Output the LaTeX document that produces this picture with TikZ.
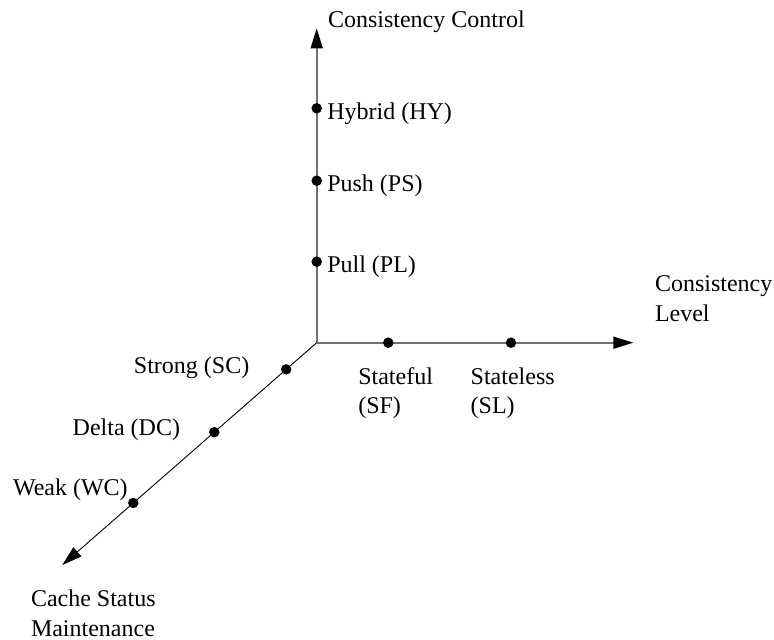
\documentclass[tikz,border=0pt]{standalone}
\usepackage{fontspec}
\setmainfont{Liberation Serif}
\usetikzlibrary{arrows.meta,calc}
\definecolor{axisgray}{HTML}{707070}
\begin{document}
\begin{tikzpicture}[x=1pt,y=-1pt,
  every node/.style={font=\fontsize{24}{29.3}\selectfont, inner sep=0pt, outer sep=0pt},
  axis/.style={draw=axisgray, line width=1.6pt, -{Triangle[length=20pt,width=12pt,fill=black,color=black]}},
  diagaxis/.style={draw=black, line width=0.9pt, -{Triangle[length=20pt,width=12pt]}},
  tick/.style={circle, fill=black, minimum size=10.5pt},
  lbl/.style={anchor=base west, align=left},
  rlbl/.style={anchor=base east, align=right}]
\useasboundingbox (0,0) rectangle (774,640);

% axes
\coordinate (O) at (316.7,342.7);
\coordinate (ctrlEnd) at (316.7,28.3);
\coordinate (levelEnd) at (633.3,342.7);
\coordinate (cacheEnd) at (62.3,565);

\draw[axis] (O) -- (ctrlEnd);
\draw[axis] (O) -- (levelEnd);
\draw[diagaxis] (O) -- (cacheEnd);

% axis titles (two-line nodes are placed by the baseline of their last line)
\node[lbl] (tCtrl) at (328,27.3) {Consistency Control};
\node[lbl] (tLevel) at (655,321) {Consistency\\Level};
\node[lbl] (tCache) at (31,636) {Cache Status\\Maintenance};

% consistency control points
\node[tick] (hy) at (316.7,108.3) {};
\node[tick] (ps) at (316.7,180.7) {};
\node[tick] (pl) at (316.7,261.7) {};
\node[lbl] (lhy) at (327.3,119.3) {Hybrid (HY)};
\node[lbl] (lps) at (327.3,191.3) {Push (PS)};
\node[lbl] (lpl) at (327.3,272.3) {Pull (PL)};

% consistency level points
\node[tick] (sf) at (388.3,342.7) {};
\node[tick] (sl) at (511,342.7) {};
\node[lbl] (lsf) at (358.3,413.3) {Stateful\\(SF)};
\node[lbl] (lsl) at (470.7,413.3) {Stateless\\(SL)};

% cache status maintenance points
\node[tick] (sc) at ($(O)!0.12!(cacheEnd)$) {};
\node[tick] (dc) at ($(O)!0.4025!(cacheEnd)$) {};
\node[tick] (wc) at ($(O)!0.721!(cacheEnd)$) {};
\node[rlbl] (lsc) at (249.3,373.3) {Strong (SC)};
\node[rlbl] (ldc) at (180,435) {Delta (DC)};
\node[rlbl] (lwc) at (127.7,495) {Weak (WC)};
\end{tikzpicture}
\end{document}
